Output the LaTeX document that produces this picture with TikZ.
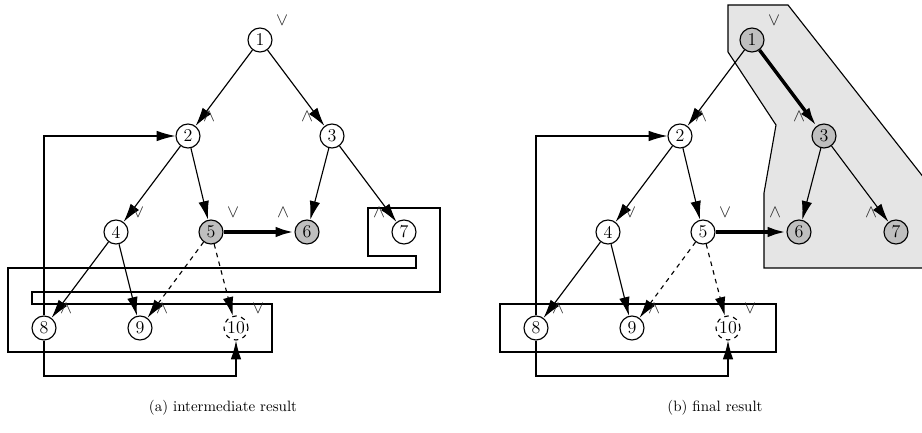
\documentclass[tikz,border=0pt]{standalone}
\usetikzlibrary{arrows.meta}

\tikzset{
    vtx/.style={draw, circle, fill=white, minimum size=16pt, inner sep=0pt, font=\large},
    hit/.style={vtx, fill=black!25},
    open/.style={vtx, dashed},
    sgn/.style={text=black!85, inner sep=0pt, font=\large},
    heavy/.style={line width=2.3pt},
}

\begin{document}
\begin{tikzpicture}[>={Latex[length=12.5pt,width=7pt]}, x=0.6667pt, y=-0.6667pt, line width=0.75pt]
    \useasboundingbox (0,0) rectangle (922,433);

    % ---------------- (a) intermediate result ----------------
    % the long folded frame round the bottom row
    \draw (8,268) -- (416,268) -- (416,256) -- (368,256) -- (368,208)
        -- (440,208) -- (440,292) -- (32,292) -- (32,304) -- (272,304)
        -- (272,352) -- (8,352) -- cycle;

    % the vertices of (a)
    \foreach \i/\x/\y/\s in {1/260/40/vtx, 2/188/136/vtx, 3/332/136/vtx,
        4/116/232/vtx, 5/211/232/hit, 6/307/232/hit, 7/404/232/vtx,
        8/44/328/vtx, 9/140/328/vtx, 10/236/328/open}
    \node[\s] (a\i) at (\x,\y) {\i};

    % the tree edges of (a)
    \foreach \u/\v in {1/2, 1/3, 2/4, 2/5, 3/6, 3/7, 4/8, 4/9}
    \draw[->] (a\u) -- (a\v);
    \draw[->, heavy] (a5) -- (a6);
    \draw[->, dashed] (a5) -- (a9);
    \draw[->, dashed] (a5) -- (a10);

    % the two back edges from 8
    \coordinate (alow) at (236,376);
    \draw[->] (a8) |- (a2);
    \draw[->] (a8) |- (alow) -- (a10);

    % ---------------- (b) final result ----------------
    \begin{scope}[shift={(492,0)}]
    % the grey region
    \draw[fill=black!10] (236,5) -- (296,5) -- (458,211) -- (458,268)
        -- (272,268) -- (272,193) -- (284,125) -- (236,52) -- cycle;
    % the frame round the bottom row
    \draw (8,304) rectangle (284,352);

    % the vertices of (b)
    \foreach \i/\x/\y/\s in {1/260/40/hit, 2/188/136/vtx, 3/332/136/hit,
        4/116/232/vtx, 5/211/232/vtx, 6/307/232/hit, 7/404/232/hit,
        8/44/328/vtx, 9/140/328/vtx, 10/236/328/open}
    \node[\s] (b\i) at (\x,\y) {\i};

    % the tree edges of (b)
    \foreach \u/\v in {1/2, 2/4, 2/5, 3/6, 3/7, 4/8, 4/9}
    \draw[->] (b\u) -- (b\v);
    \draw[->, heavy] (b1) -- (b3);
    \draw[->, heavy] (b5) -- (b6);
    \draw[->, dashed] (b5) -- (b9);
    \draw[->, dashed] (b5) -- (b10);

    % the two back edges from 8
    \coordinate (blow) at (236,376);
    \draw[->] (b8) |- (b2);
    \draw[->] (b8) |- (blow) -- (b10);
    \end{scope}

    % the wedge and vee marks beside every vertex
    \foreach \p/\sh in {a/0, b/492}
    \foreach \i/\m/\dx in {1/\vee/22, 2/\wedge/21, 3/\wedge/-25, 4/\vee/22,
        5/\vee/22, 6/\wedge/-24, 7/\wedge/-25, 8/\wedge/22, 9/\wedge/22,
        10/\vee/22}
    \node[sgn] (m\p\i) at ([shift={(\dx,-19)}]\p\i) {$\m$};

    % the captions
    \node (capa) at (223,408) {(a) intermediate result};
    \node (capb) at (715,408) {(b) final result};
\end{tikzpicture}
\end{document}
